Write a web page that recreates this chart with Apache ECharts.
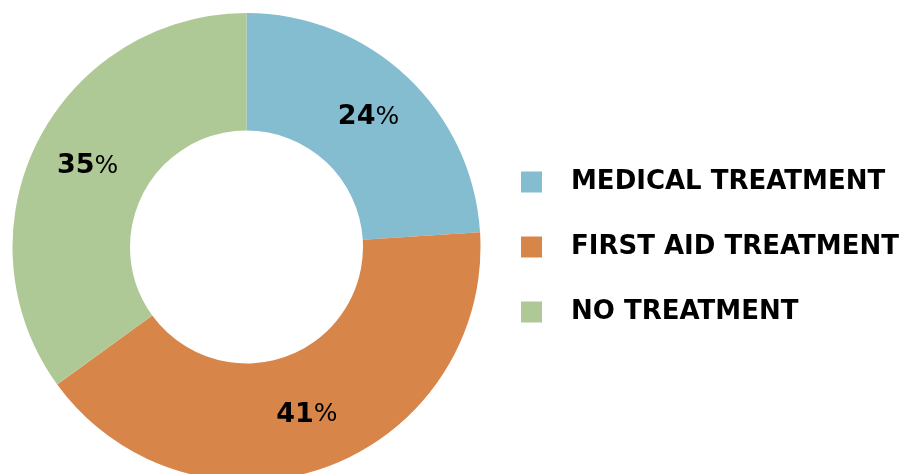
<!DOCTYPE html>
<html>
<head>
<meta charset="utf-8">
<style>
  html, body { margin: 0; padding: 0; background: #ffffff; }
  #chart { width: 901px; height: 474px; }
</style>
<script src="https://cdn.jsdelivr.net/npm/echarts@6/dist/echarts.min.js"></script>
</head>
<body>
<div id="chart"></div>
<script>
// Share of injuries by treatment type
const categories = ['MEDICAL TREATMENT', 'FIRST AID TREATMENT', 'NO TREATMENT'];
const values = [24, 41, 35];
const colors = ['#84BCD0', '#D88549', '#AEC996'];

const chart = echarts.init(document.getElementById('chart'), null, { renderer: 'canvas' });

const pieData = categories.map((name, i) => ({
  name: name,
  value: values[i],
  itemStyle: { color: colors[i] }
}));

chart.setOption({
  animation: false,
  backgroundColor: '#ffffff',
  legend: {
    orient: 'vertical',
    left: 521,
    top: 169,
    padding: 0,
    itemWidth: 21,
    itemHeight: 21,
    itemGap: 39,
    icon: 'rect',
    data: categories,
    textStyle: {
      fontFamily: 'DejaVu Sans',
      fontWeight: 'bold',
      fontSize: 26,
      color: '#000000',
      padding: [0, 0, 0, 24]
    }
  },
  series: [{
    type: 'pie',
    center: [246.5, 247],
    radius: [116.5, 234],
    startAngle: 90,
    clockwise: true,
    avoidLabelOverlap: false,
    label: {
      show: true,
      position: 'inside',
      formatter: p => '{n|' + p.value + '}{p|%}',
      rich: {
        n: { fontFamily: 'DejaVu Sans', fontWeight: 'bold', fontSize: 27, color: '#000000' },
        p: { fontFamily: 'DejaVu Sans', fontWeight: 'normal', fontSize: 25, color: '#000000' }
      }
    },
    labelLine: { show: false },
    emphasis: { disabled: true },
    data: pieData
  }]
});
</script>
</body>
</html>
